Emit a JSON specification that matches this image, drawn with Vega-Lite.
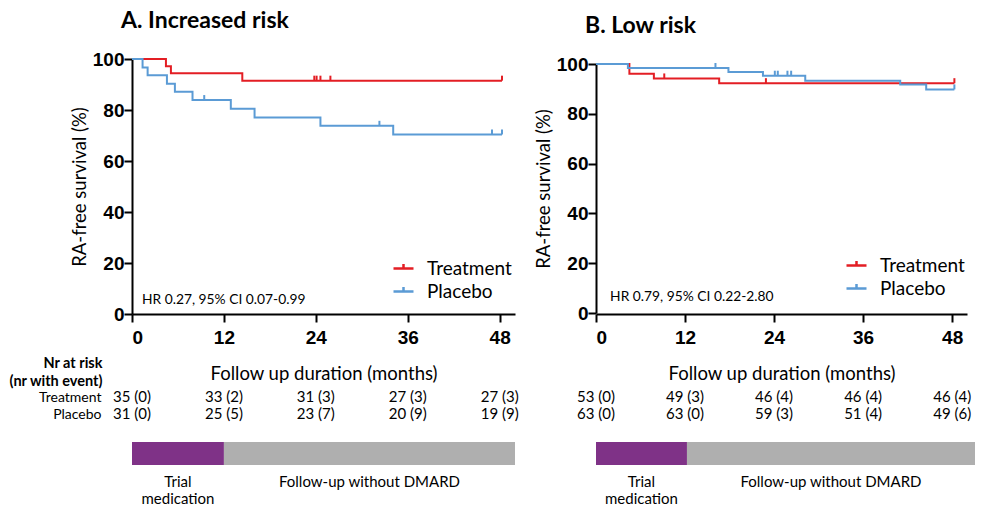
{
  "$schema": "https://vega.github.io/schema/vega-lite/v6.json",
  "background": "white",
  "padding": {"left": 8, "top": 10, "right": 5, "bottom": 5},
  "config": {
    "view": {"stroke": null},
    "font": "Lato",
    "axis": {"domainColor": "black", "domainWidth": 2, "tickColor": "black", "tickWidth": 2, "tickSize": 8, "labelFont": "Liberation Sans", "labelFontWeight": "bold", "labelFontSize": 19, "labelColor": "black", "titleFont": "Lato", "titleFontWeight": "normal", "titleFontSize": 18.5, "titleColor": "black", "grid": false},
    "legend": {"orient": "none", "title": null, "symbolType": "M-1,0L1,0M0,0L0,-0.45", "symbolSize": 400, "symbolStrokeWidth": 2.5, "symbolFillColor": "transparent", "labelFont": "Lato", "labelFontSize": 19, "labelColor": "black", "labelOffset": 12, "rowPadding": 1},
    "title": {"anchor": "start", "frame": "group", "font": "Lato", "fontWeight": "bold", "fontSize": 23, "color": "black", "dx": -11, "offset": 17}
  },
  "datasets": {
    "km": [
      {"panel": "A", "group": "Treatment", "time": 0, "surv": 100},
      {"panel": "A", "group": "Treatment", "time": 4.43, "surv": 97.2},
      {"panel": "A", "group": "Treatment", "time": 5.08, "surv": 94.4},
      {"panel": "A", "group": "Treatment", "time": 14.4, "surv": 91.5},
      {"panel": "A", "group": "Treatment", "time": 48.3, "surv": 91.5},
      {"panel": "A", "group": "Placebo", "time": 0, "surv": 100},
      {"panel": "A", "group": "Placebo", "time": 1.38, "surv": 96.7},
      {"panel": "A", "group": "Placebo", "time": 2.04, "surv": 93.6},
      {"panel": "A", "group": "Placebo", "time": 4.56, "surv": 90.3},
      {"panel": "A", "group": "Placebo", "time": 5.6, "surv": 87.2},
      {"panel": "A", "group": "Placebo", "time": 7.9, "surv": 83.9},
      {"panel": "A", "group": "Placebo", "time": 12.9, "surv": 80.5},
      {"panel": "A", "group": "Placebo", "time": 16.0, "surv": 77.1},
      {"panel": "A", "group": "Placebo", "time": 24.6, "surv": 73.8},
      {"panel": "A", "group": "Placebo", "time": 34.1, "surv": 70.4},
      {"panel": "A", "group": "Placebo", "time": 48.3, "surv": 70.4},
      {"panel": "B", "group": "Treatment", "time": 0, "surv": 100},
      {"panel": "B", "group": "Treatment", "time": 4.5, "surv": 96.1},
      {"panel": "B", "group": "Treatment", "time": 7.8, "surv": 94.2},
      {"panel": "B", "group": "Treatment", "time": 16.6, "surv": 92.3},
      {"panel": "B", "group": "Treatment", "time": 48.3, "surv": 92.3},
      {"panel": "B", "group": "Placebo", "time": 0, "surv": 100},
      {"panel": "B", "group": "Placebo", "time": 4.3, "surv": 98.4},
      {"panel": "B", "group": "Placebo", "time": 17.85, "surv": 96.8},
      {"panel": "B", "group": "Placebo", "time": 22.5, "surv": 95.3},
      {"panel": "B", "group": "Placebo", "time": 28.2, "surv": 93.3},
      {"panel": "B", "group": "Placebo", "time": 41.0, "surv": 91.8},
      {"panel": "B", "group": "Placebo", "time": 44.5, "surv": 89.8},
      {"panel": "B", "group": "Placebo", "time": 48.3, "surv": 89.8}
    ],
    "censor": [
      {"panel": "A", "group": "Treatment", "time": 23.8, "surv": 91.5},
      {"panel": "A", "group": "Treatment", "time": 24.1, "surv": 91.5},
      {"panel": "A", "group": "Treatment", "time": 24.6, "surv": 91.5},
      {"panel": "A", "group": "Treatment", "time": 25.9, "surv": 91.5},
      {"panel": "A", "group": "Treatment", "time": 48.3, "surv": 91.5},
      {"panel": "A", "group": "Placebo", "time": 9.43, "surv": 83.9},
      {"panel": "A", "group": "Placebo", "time": 32.3, "surv": 73.8},
      {"panel": "A", "group": "Placebo", "time": 47.0, "surv": 70.4},
      {"panel": "A", "group": "Placebo", "time": 48.3, "surv": 70.4},
      {"panel": "B", "group": "Treatment", "time": 9.2, "surv": 94.2},
      {"panel": "B", "group": "Treatment", "time": 22.9, "surv": 92.3},
      {"panel": "B", "group": "Treatment", "time": 48.3, "surv": 92.3},
      {"panel": "B", "group": "Placebo", "time": 16.1, "surv": 98.4},
      {"panel": "B", "group": "Placebo", "time": 24.1, "surv": 95.3},
      {"panel": "B", "group": "Placebo", "time": 24.5, "surv": 95.3},
      {"panel": "B", "group": "Placebo", "time": 25.8, "surv": 95.3},
      {"panel": "B", "group": "Placebo", "time": 26.3, "surv": 95.3},
      {"panel": "B", "group": "Placebo", "time": 48.3, "surv": 89.8}
    ],
    "hr": [
      {"panel": "A", "text": "HR 0.27, 95% CI 0.07-0.99"},
      {"panel": "B", "text": "HR 0.79, 95% CI 0.22-2.80"}
    ],
    "risk": [
      {"panel": "A", "group": "Treatment", "time": 0, "label": "35 (0)"},
      {"panel": "A", "group": "Treatment", "time": 12, "label": "33 (2)"},
      {"panel": "A", "group": "Treatment", "time": 24, "label": "31 (3)"},
      {"panel": "A", "group": "Treatment", "time": 36, "label": "27 (3)"},
      {"panel": "A", "group": "Treatment", "time": 48, "label": "27 (3)"},
      {"panel": "A", "group": "Placebo", "time": 0, "label": "31 (0)"},
      {"panel": "A", "group": "Placebo", "time": 12, "label": "25 (5)"},
      {"panel": "A", "group": "Placebo", "time": 24, "label": "23 (7)"},
      {"panel": "A", "group": "Placebo", "time": 36, "label": "20 (9)"},
      {"panel": "A", "group": "Placebo", "time": 48, "label": "19 (9)"},
      {"panel": "B", "group": "Treatment", "time": 0, "label": "53 (0)"},
      {"panel": "B", "group": "Treatment", "time": 12, "label": "49 (3)"},
      {"panel": "B", "group": "Treatment", "time": 24, "label": "46 (4)"},
      {"panel": "B", "group": "Treatment", "time": 36, "label": "46 (4)"},
      {"panel": "B", "group": "Treatment", "time": 48, "label": "46 (4)"},
      {"panel": "B", "group": "Placebo", "time": 0, "label": "63 (0)"},
      {"panel": "B", "group": "Placebo", "time": 12, "label": "63 (0)"},
      {"panel": "B", "group": "Placebo", "time": 24, "label": "59 (3)"},
      {"panel": "B", "group": "Placebo", "time": 36, "label": "51 (4)"},
      {"panel": "B", "group": "Placebo", "time": 48, "label": "49 (6)"}
    ],
    "phases": [
      {"panel": "A", "phase": "Trial\nmedication", "start": 0, "end": 12},
      {"panel": "A", "phase": "Follow-up without DMARD", "start": 12, "end": 50},
      {"panel": "B", "phase": "Trial\nmedication", "start": 0, "end": 12},
      {"panel": "B", "phase": "Follow-up without DMARD", "start": 12, "end": 50}
    ]
  },
  "bounds": "flush",
  "align": "each",
  "columns": 2,
  "spacing": {"row": 19, "column": 81},
  "resolve": {"scale": {"x": "independent", "y": "independent", "color": "independent"}, "axis": {"x": "independent", "y": "independent"}, "legend": {"color": "independent"}},
  "concat": [
    {
      "width": 383,
      "height": 255,
      "title": {"text": "A. Increased risk"},
      "layer": [
        {
          "data": {"name": "km"},
          "transform": [{"filter": "datum.panel === 'A'"}],
          "mark": {"type": "line", "interpolate": "step-after", "strokeWidth": 2},
          "encoding": {
            "x": {"field": "time", "type": "quantitative", "scale": {"domain": [0, 50]}, "axis": {"values": [0, 12, 24, 36, 48], "title": "Follow up duration (months)", "labelPadding": 6, "titlePadding": 17}},
            "y": {"field": "surv", "type": "quantitative", "scale": {"domain": [0, 100]}, "axis": {"values": [0, 20, 40, 60, 80, 100], "title": "RA-free survival (%)", "labelPadding": 0, "titlePadding": 3}},
            "color": {"field": "group", "type": "nominal", "scale": {"domain": ["Treatment", "Placebo"], "range": ["#E31E24", "#5B9BD5"]}, "legend": {"legendX": 260, "legendY": 198}}
          }
        },
        {
          "data": {"name": "censor"},
          "transform": [{"filter": "datum.panel === 'A'"}],
          "mark": {"type": "point", "shape": "M0,0L0,-1", "size": 100, "strokeWidth": 2, "filled": false, "opacity": 1},
          "encoding": {
            "x": {"field": "time", "type": "quantitative"},
            "y": {"field": "surv", "type": "quantitative"},
            "color": {"field": "group", "type": "nominal"}
          }
        },
        {
          "data": {"name": "hr"},
          "transform": [{"filter": "datum.panel === 'A'"}],
          "mark": {"type": "text", "align": "left", "baseline": "middle", "font": "Lato", "fontSize": 13.8, "color": "black"},
          "encoding": {
            "x": {"datum": 1.3},
            "y": {"datum": 5.5},
            "text": {"field": "text"}
          }
        }
      ]
    },
    {
      "width": 371,
      "height": 255,
      "title": {"text": "B. Low risk"},
      "layer": [
        {
          "data": {"name": "km"},
          "transform": [{"filter": "datum.panel === 'B'"}],
          "mark": {"type": "line", "interpolate": "step-after", "strokeWidth": 2},
          "encoding": {
            "x": {"field": "time", "type": "quantitative", "scale": {"domain": [0, 50]}, "axis": {"values": [0, 12, 24, 36, 48], "title": "Follow up duration (months)", "labelPadding": 6, "titlePadding": 17}},
            "y": {"field": "surv", "type": "quantitative", "scale": {"domain": [0, 100], "range": [254, 5]}, "axis": {"values": [0, 20, 40, 60, 80, 100], "title": "RA-free survival (%)", "labelPadding": 0, "titlePadding": 3}},
            "color": {"field": "group", "type": "nominal", "scale": {"domain": ["Treatment", "Placebo"], "range": ["#E31E24", "#5B9BD5"]}, "legend": {"legendX": 249, "legendY": 195}}
          }
        },
        {
          "data": {"name": "censor"},
          "transform": [{"filter": "datum.panel === 'B'"}],
          "mark": {"type": "point", "shape": "M0,0L0,-1", "size": 100, "strokeWidth": 2, "filled": false, "opacity": 1},
          "encoding": {
            "x": {"field": "time", "type": "quantitative"},
            "y": {"field": "surv", "type": "quantitative"},
            "color": {"field": "group", "type": "nominal"}
          }
        },
        {
          "data": {"name": "hr"},
          "transform": [{"filter": "datum.panel === 'B'"}],
          "mark": {"type": "text", "align": "left", "baseline": "middle", "font": "Lato", "fontSize": 13.8, "color": "black"},
          "encoding": {
            "x": {"datum": 1.9},
            "y": {"datum": 6.4},
            "text": {"field": "text"}
          }
        }
      ]
    },
    {
      "width": 383,
      "height": 90,
      "data": {"name": "risk"},
      "transform": [{"filter": "datum.panel === 'A'"}],
      "mark": {"type": "text", "font": "Lato", "fontSize": 15, "color": "black"},
      "encoding": {
        "x": {"field": "time", "type": "quantitative", "scale": {"domain": [0, 50]}, "axis": null},
        "y": {"field": "group", "type": "nominal", "scale": {"type": "point", "domain": ["Treatment", "Placebo"], "padding": 0, "range": [64, 81]}, "axis": {"title": ["Nr at risk", "(nr with event)"], "titleAngle": 0, "titleAlign": "right", "titleBaseline": "bottom", "titleX": -30, "titleY": 37, "titleFont": "Lato", "titleFontWeight": "bold", "titleFontSize": 14.5, "titleLineHeight": 18, "domain": false, "ticks": false, "labelFont": "Lato", "labelFontWeight": "normal", "labelFontSize": 14, "labelPadding": 31}},
        "text": {"field": "label"}
      }
    },
    {
      "width": 371,
      "height": 90,
      "data": {"name": "risk"},
      "transform": [{"filter": "datum.panel === 'B'"}],
      "mark": {"type": "text", "font": "Lato", "fontSize": 15, "color": "black"},
      "encoding": {
        "x": {"field": "time", "type": "quantitative", "scale": {"domain": [0, 50]}, "axis": null},
        "y": {"field": "group", "type": "nominal", "scale": {"type": "point", "domain": ["Treatment", "Placebo"], "padding": 0, "range": [64, 81]}, "axis": null},
        "text": {"field": "label"}
      }
    },
    {
      "width": 383,
      "height": 23,
      "data": {"name": "phases"},
      "transform": [{"filter": "datum.panel === 'A'"}],
      "layer": [
        {
          "mark": {"type": "rect"},
          "encoding": {
            "x": {"field": "start", "type": "quantitative", "scale": {"domain": [0, 50]}, "axis": null},
            "x2": {"field": "end"},
            "color": {"field": "phase", "type": "nominal", "scale": {"domain": ["Trial\nmedication", "Follow-up without DMARD"], "range": ["#7F3287", "#AFAFAF"]}, "legend": null}
          }
        },
        {
          "transform": [{"fold": ["start", "end"], "as": ["k", "v"]}, {"aggregate": [{"op": "mean", "field": "v", "as": "mid"}], "groupby": ["phase"]}],
          "mark": {"type": "text", "baseline": "top", "dy": 21, "lineBreak": "\n", "font": "Lato", "fontSize": 15, "lineHeight": 17, "color": "black"},
          "encoding": {
            "x": {"field": "mid", "type": "quantitative"},
            "text": {"field": "phase"}
          }
        }
      ]
    },
    {
      "width": 379,
      "height": 23,
      "data": {"name": "phases"},
      "transform": [{"filter": "datum.panel === 'B'"}],
      "layer": [
        {
          "mark": {"type": "rect"},
          "encoding": {
            "x": {"field": "start", "type": "quantitative", "scale": {"domain": [0, 50]}, "axis": null},
            "x2": {"field": "end"},
            "color": {"field": "phase", "type": "nominal", "scale": {"domain": ["Trial\nmedication", "Follow-up without DMARD"], "range": ["#7F3287", "#AFAFAF"]}, "legend": null}
          }
        },
        {
          "transform": [{"fold": ["start", "end"], "as": ["k", "v"]}, {"aggregate": [{"op": "mean", "field": "v", "as": "mid"}], "groupby": ["phase"]}],
          "mark": {"type": "text", "baseline": "top", "dy": 21, "lineBreak": "\n", "font": "Lato", "fontSize": 15, "lineHeight": 17, "color": "black"},
          "encoding": {
            "x": {"field": "mid", "type": "quantitative"},
            "text": {"field": "phase"}
          }
        }
      ]
    }
  ]
}
